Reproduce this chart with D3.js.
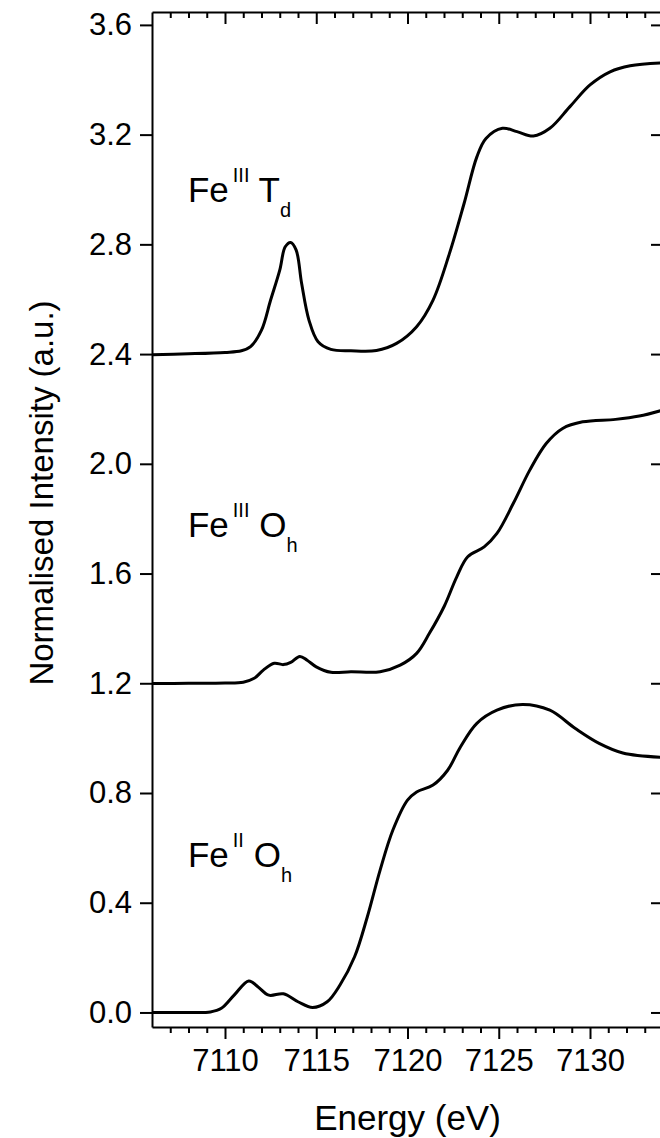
<!DOCTYPE html>
<html>
<head>
<meta charset="utf-8">
<script src="https://cdn.jsdelivr.net/npm/d3@7"></script>
<style>
  body { margin: 0; background: #fff; }
  svg { display: block; }
  svg text { font-family: "Liberation Sans", Arial, sans-serif; }
</style>
</head>
<body>
<svg id="chart"></svg>
<script>
// Fe K-edge XANES spectra
const tdEnergy = [7106, 7108, 7110, 7110.9, 7111.4, 7112.0, 7112.5, 7113.0, 7113.3, 7113.6, 7113.9, 7114.2, 7114.6, 7115.1, 7115.8, 7116.9, 7118.3, 7119.4, 7120.5, 7121.4, 7122.3, 7123.1, 7123.8, 7124.3, 7125.2, 7126.0, 7126.9, 7127.8, 7128.9, 7130.0, 7131.1, 7132.2, 7134]
const tdIntensity = [2.398, 2.401, 2.406, 2.412, 2.427, 2.487, 2.597, 2.706, 2.791, 2.807, 2.779, 2.657, 2.524, 2.445, 2.417, 2.412, 2.413, 2.439, 2.500, 2.597, 2.767, 2.949, 3.119, 3.186, 3.223, 3.211, 3.195, 3.223, 3.302, 3.381, 3.429, 3.451, 3.462]

const oh3Energy = [7106, 7108, 7110, 7111.0, 7111.6, 7112.1, 7112.7, 7113.2, 7113.6, 7114.1, 7114.5, 7115.0, 7115.8, 7116.9, 7118.5, 7119.6, 7120.5, 7121.2, 7122.0, 7122.7, 7123.3, 7124.2, 7124.9, 7125.8, 7126.7, 7127.6, 7128.5, 7129.6, 7131.4, 7132.7, 7134]
const oh3Intensity = [1.199, 1.200, 1.201, 1.204, 1.218, 1.248, 1.273, 1.268, 1.276, 1.298, 1.284, 1.260, 1.240, 1.242, 1.242, 1.266, 1.309, 1.382, 1.479, 1.588, 1.661, 1.697, 1.746, 1.856, 1.977, 2.074, 2.129, 2.153, 2.162, 2.174, 2.196]

const oh2Energy = [7106, 7108, 7109.2, 7109.8, 7110.5, 7111.3, 7111.8, 7112.4, 7113.2, 7114.0, 7114.8, 7115.6, 7116.3, 7117.1, 7117.8, 7118.5, 7119.2, 7120.0, 7120.5, 7121.4, 7122.2, 7122.9, 7123.8, 7124.9, 7126.3, 7127.8, 7129.2, 7130.5, 7131.8, 7134]
const oh2Intensity = [0.000, 0.000, 0.002, 0.015, 0.063, 0.115, 0.094, 0.063, 0.068, 0.039, 0.018, 0.039, 0.100, 0.203, 0.349, 0.519, 0.665, 0.774, 0.804, 0.829, 0.883, 0.968, 1.054, 1.102, 1.123, 1.102, 1.035, 0.981, 0.946, 0.930]

const xMajorTicks = [7110, 7115, 7120, 7125, 7130]
const yTicks = [0.0, 0.4, 0.8, 1.2, 1.6, 2.0, 2.4, 2.8, 3.2, 3.6]

// label: base, superscript, symbol, subscript, anchor in data units
const labels = [
  { base: "Fe", sup: "III", sym: "T", sub: "d", e: 7107.97, v: 2.955 },
  { base: "Fe", sup: "III", sym: "O", sub: "h", e: 7107.97, v: 1.735 },
  { base: "Fe", sup: "II",  sym: "O", sub: "h", e: 7107.97, v: 0.531 }
]

const width = 660, height = 1138
const mLeft = 152, mRight = 663, mTop = 12, mBottom = 1027

const svg = d3.select("#chart").attr("width", width).attr("height", height)

const x = d3.scaleLinear().domain([7106, 7134]).range([mLeft, mRight])
const y = d3.scaleLinear().domain([-0.053, 3.647]).range([mBottom, mTop])

const minorTicks = d3.range(7107, 7134, 1).filter(d => !xMajorTicks.includes(d))

function styleAxis(g) {
  g.attr("font-family", null).attr("font-size", null)
  g.selectAll("path.domain").attr("stroke", "#000").attr("stroke-width", 2)
  g.selectAll(".tick line").attr("stroke", "#000").attr("stroke-width", 2)
  g.selectAll("text").attr("fill", "#000").style("font-size", "31px")
}

// bottom axis
svg.append("g")
  .attr("transform", "translate(0," + mBottom + ")")
  .call(d3.axisBottom(x).tickValues(xMajorTicks).tickSize(12).tickSizeOuter(0).tickPadding(10).tickFormat(d3.format("d")))
  .call(styleAxis)
svg.append("g")
  .attr("transform", "translate(0," + mBottom + ")")
  .call(d3.axisBottom(x).tickValues(minorTicks).tickSize(6).tickFormat(""))
  .call(g => g.select(".domain").remove())
  .call(styleAxis)

// top axis (mirror, ticks inward)
svg.append("g")
  .attr("transform", "translate(0," + mTop + ")")
  .call(d3.axisTop(x).tickValues(xMajorTicks).tickSize(-12).tickSizeOuter(0).tickFormat(""))
  .call(styleAxis)
svg.append("g")
  .attr("transform", "translate(0," + mTop + ")")
  .call(d3.axisTop(x).tickValues(minorTicks).tickSize(-6).tickFormat(""))
  .call(g => g.select(".domain").remove())
  .call(styleAxis)

// left axis
svg.append("g")
  .attr("transform", "translate(" + mLeft + ",0)")
  .call(d3.axisLeft(y).tickValues(yTicks).tickSize(12).tickSizeOuter(0).tickPadding(8).tickFormat(d3.format(".1f")))
  .call(styleAxis)

// right axis (mirror, ticks inward)
svg.append("g")
  .attr("transform", "translate(" + mRight + ",0)")
  .call(d3.axisRight(y).tickValues(yTicks).tickSize(-12).tickSizeOuter(0).tickFormat(""))
  .call(styleAxis)

// spectra
const line = d3.line()
  .x(d => x(d[0]))
  .y(d => y(d[1]))
  .curve(d3.curveCatmullRom.alpha(0.5))

const series = [
  d3.zip(tdEnergy, tdIntensity),
  d3.zip(oh3Energy, oh3Intensity),
  d3.zip(oh2Energy, oh2Intensity)
]

svg.selectAll("path.spectrum")
  .data(series)
  .enter()
  .append("path")
    .attr("class", "spectrum")
    .attr("d", line)
    .attr("fill", "none")
    .attr("stroke", "#000")
    .attr("stroke-width", 3)
    .attr("stroke-linejoin", "round")

// species labels
const lab = svg.selectAll("text.species")
  .data(labels)
  .enter()
  .append("text")
    .attr("class", "species")
    .attr("x", d => x(d.e))
    .attr("y", d => y(d.v))
    .attr("fill", "#000")
    .style("font-size", "35px")

lab.append("tspan").text(d => d.base)
lab.append("tspan").attr("dx", 4).attr("dy", -20).style("font-size", "20px").text(d => d.sup)
lab.append("tspan").attr("dy", 20).text(d => " " + d.sym)
lab.append("tspan").attr("dy", 15).style("font-size", "20px").text(d => d.sub)

// axis titles
svg.append("text")
  .attr("x", (mLeft + mRight) / 2)
  .attr("y", 1130)
  .attr("text-anchor", "middle")
  .style("font-size", "35px")
  .text("Energy (eV)")

svg.append("text")
  .attr("transform", "translate(53,493) rotate(-90)")
  .attr("text-anchor", "middle")
  .style("font-size", "33px")
  .text("Normalised Intensity (a.u.)")
</script>
</body>
</html>
